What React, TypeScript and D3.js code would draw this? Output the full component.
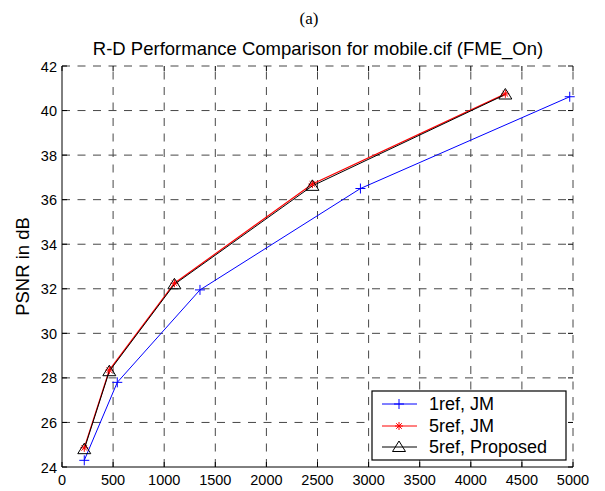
import React from "react";
import * as d3 from "d3";

// Bitrate (kbps) and PSNR (dB) for each configuration
const ref1JmRate = [218, 541, 1350, 2920, 4968];
const ref1JmPsnr = [24.3, 27.8, 31.95, 36.5, 40.62];
const ref5JmRate = [218, 463, 1100, 2450, 4338];
const ref5JmPsnr = [24.86, 28.35, 32.25, 36.7, 40.75];
const ref5PropRate = [218, 463, 1100, 2450, 4338];
const ref5PropPsnr = [24.8, 28.3, 32.2, 36.62, 40.72];

const xTicks = [0, 500, 1000, 1500, 2000, 2500, 3000, 3500, 4000, 4500, 5000];
const yTicks = [24, 26, 28, 30, 32, 34, 36, 38, 40, 42];

const seriesNames = ["1ref, JM", "5ref, JM", "5ref, Proposed"];

const W = 605;
const H = 491;
const left = 62;
const right = 573;
const top = 66;
const bottom = 467;

const x = d3.scaleLinear().domain([0, 5000]).range([left, right]);
const y = d3.scaleLinear().domain([24, 42]).range([bottom, top]);

const line = d3
  .line<[number, number]>()
  .x((d) => x(d[0]))
  .y((d) => y(d[1]));

const zip = (a: number[], b: number[]) => a.map((v, i) => [v, b[i]] as [number, number]);

const Plus = ({ cx, cy, color }: { cx: number; cy: number; color: string }) => (
  <path d={`M${cx - 5},${cy}H${cx + 5}M${cx},${cy - 5}V${cy + 5}`} stroke={color} strokeWidth={1} fill="none" />
);

const Star = ({ cx, cy, color }: { cx: number; cy: number; color: string }) => {
  const r = 4;
  const d = r * 0.7;
  return (
    <path
      d={`M${cx - r},${cy}H${cx + r}M${cx},${cy - r}V${cy + r}M${cx - d},${cy - d}L${cx + d},${cy + d}M${cx - d},${cy + d}L${cx + d},${cy - d}`}
      stroke={color}
      strokeWidth={1}
      fill="none"
    />
  );
};

const Tri = ({ cx, cy, color }: { cx: number; cy: number; color: string }) => (
  <path d={`M${cx},${cy - 6}L${cx + 6.5},${cy + 4.5}L${cx - 6.5},${cy + 4.5}Z`} stroke={color} strokeWidth={1} fill="none" />
);

export default function App() {
  const font = "Arial, 'Liberation Sans', sans-serif";
  const s1 = zip(ref1JmRate, ref1JmPsnr);
  const s2 = zip(ref5JmRate, ref5JmPsnr);
  const s3 = zip(ref5PropRate, ref5PropPsnr);
  const lg = { x0: 372, y0: 391, x1: 566, y1: 460 };
  const rows = [404, 426, 447];
  const dash = "8,7.5";
  return (
    <svg width={W} height={H} style={{ position: "absolute", left: 0, top: 0, background: "#fff" }}>
      <rect x={0} y={0} width={W} height={H} fill="#fff" />
      <text x={309} y={24} textAnchor="middle" fontFamily="'Liberation Serif', 'Times New Roman', serif" fontSize={17}>
        (a)
      </text>
      <text x={318} y={55} textAnchor="middle" fontFamily={font} fontSize={18.5}>
        R-D Performance Comparison for mobile.cif (FME_On)
      </text>
      <text
        transform={`translate(29,${(top + bottom) / 2}) rotate(-90)`}
        textAnchor="middle"
        fontFamily={font}
        fontSize={18.5}
      >
        PSNR in dB
      </text>

      {/* grid */}
      <g stroke="#000" strokeWidth={1} strokeDasharray={dash} opacity={0.72}>
        {xTicks.slice(1, -1).map((t) => (
          <line key={`gx${t}`} x1={x(t)} x2={x(t)} y1={bottom} y2={top} />
        ))}
        {yTicks.slice(1, -1).map((t) => (
          <line key={`gy${t}`} x1={left} x2={right} y1={y(t)} y2={y(t)} />
        ))}
        <line x1={left} x2={right} y1={top} y2={top} />
        <line x1={right} x2={right} y1={bottom} y2={top} />
      </g>

      {/* axes */}
      <g stroke="#000" strokeWidth={1}>
        <line x1={left} x2={left} y1={top} y2={bottom} />
        <line x1={left} x2={right} y1={bottom} y2={bottom} />
        {xTicks.map((t) => (
          <g key={`tx${t}`}>
            <line x1={x(t)} x2={x(t)} y1={bottom} y2={bottom - 5} />
            <line x1={x(t)} x2={x(t)} y1={top} y2={top + 5} />
          </g>
        ))}
        {yTicks.map((t) => (
          <g key={`ty${t}`}>
            <line x1={left} x2={left + 5} y1={y(t)} y2={y(t)} />
            <line x1={right} x2={right - 5} y1={y(t)} y2={y(t)} />
          </g>
        ))}
      </g>
      <g fontFamily={font} fontSize={14.5}>
        {xTicks.map((t) => (
          <text key={`lx${t}`} x={x(t)} y={bottom + 18} textAnchor="middle">
            {t}
          </text>
        ))}
        {yTicks.map((t) => (
          <text key={`ly${t}`} x={left - 5} y={y(t) + 5.5} textAnchor="end">
            {t}
          </text>
        ))}
      </g>

      {/* series */}
      <path d={line(s1) ?? ""} stroke="#0000ff" strokeWidth={1} fill="none" />
      <path d={line(s2) ?? ""} stroke="#ff0000" strokeWidth={1.2} fill="none" />
      <path d={line(s3) ?? ""} stroke="#000" strokeWidth={1} fill="none" />
      {s1.map((d, i) => (
        <Plus key={`p1${i}`} cx={x(d[0])} cy={y(d[1])} color="#0000ff" />
      ))}
      {s2.map((d, i) => (
        <Star key={`p2${i}`} cx={x(d[0])} cy={y(d[1])} color="#ff0000" />
      ))}
      {s3.map((d, i) => (
        <Tri key={`p3${i}`} cx={x(d[0])} cy={y(d[1])} color="#000" />
      ))}

      {/* legend */}
      <rect x={lg.x0} y={lg.y0} width={lg.x1 - lg.x0} height={lg.y1 - lg.y0} fill="#fff" stroke="#000" strokeWidth={1.2} />
      {seriesNames.map((name, i) => {
        const color = ["#0000ff", "#ff0000", "#000"][i];
        const cy = rows[i];
        const cx = 399;
        return (
          <g key={name}>
            <line x1={382} x2={417} y1={cy} y2={cy} stroke={color} strokeWidth={1} />
            {i === 0 && <Plus cx={cx} cy={cy} color={color} />}
            {i === 1 && <Star cx={cx} cy={cy} color={color} />}
            {i === 2 && <Tri cx={cx} cy={cy} color={color} />}
            <text x={429} y={cy + 6} fontFamily={font} fontSize={18}>
              {name}
            </text>
          </g>
        );
      })}
    </svg>
  );
}
